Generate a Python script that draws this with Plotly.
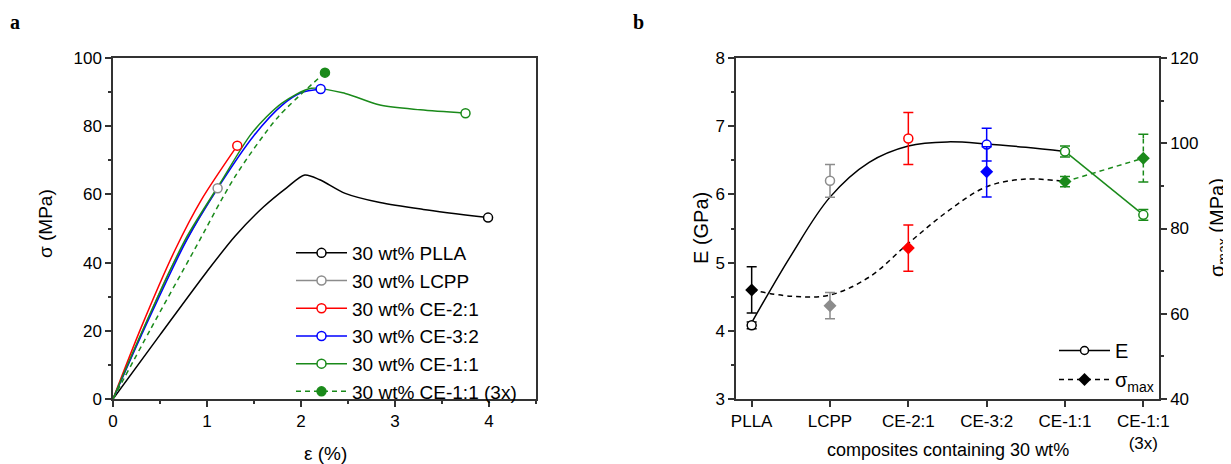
import plotly.graph_objects as go

# ---------------- Panel a: stress-strain curves ----------------
series_names = ["30 wt% PLLA", "30 wt% LCPP", "30 wt% CE-2:1", "30 wt% CE-3:2",
                "30 wt% CE-1:1", "30 wt% CE-1:1 (3x)"]
series_colors = ["#000000", "#8c8c8c", "#ff0000", "#0000ff", "#1a8a1a", "#1a8a1a"]

pla_eps = [0, 0.5, 1.0, 1.3, 1.6, 1.85, 2.04, 2.2, 2.47, 2.84, 3.3, 3.99]
pla_sig = [0, 18.8, 37.4, 47.8, 56.3, 62.0, 65.7, 64.3, 60.3, 57.6, 55.6, 53.2]

lcpp_eps = [0, 0.3, 0.6, 0.9, 1.113]
lcpp_sig = [0, 19.0, 37.4, 52.3, 61.8]

ce21_eps = [0, 0.3, 0.66, 0.94, 1.322]
ce21_sig = [0, 21.0, 43.7, 58.4, 74.3]

ce32_eps = [0, 0.3, 0.784, 1.113, 1.5, 1.8, 2.0, 2.209]
ce32_sig = [0, 18.6, 46.6, 61.8, 77.3, 86.2, 89.8, 90.9]

ce11_eps = [0, 0.3, 0.766, 1.138, 1.475, 1.794, 2.11, 2.47, 2.84, 3.27, 3.75]
ce11_sig = [0, 19.2, 46.6, 63.2, 77.9, 86.7, 91.1, 89.6, 86.2, 84.8, 83.8]

ce11x3_eps = [0, 0.4, 0.865, 1.298, 1.76, 2.255]
ce11x3_sig = [0, 20.5, 43.7, 65.2, 82.8, 95.7]

curves_eps = [pla_eps, lcpp_eps, ce21_eps, ce32_eps, ce11_eps, ce11x3_eps]
curves_sig = [pla_sig, lcpp_sig, ce21_sig, ce32_sig, ce11_sig, ce11x3_sig]
curve_dash = ["solid", "solid", "solid", "solid", "solid", "5px,4px"]
end_filled = [False, False, False, False, False, True]

# ---------------- Panel b: modulus and strength ----------------
categories = ["PLLA", "LCPP", "CE-2:1", "CE-3:2", "CE-1:1", "CE-1:1<br>(3x)"]
cat_colors = ["#000000", "#8c8c8c", "#ff0000", "#0000ff", "#1a8a1a", "#1a8a1a"]
E_vals = [4.08, 6.20, 6.82, 6.73, 6.63, 5.70]
E_err = [0.05, 0.24, 0.38, 0.24, 0.08, 0.08]
smax_vals = [65.6, 61.9, 75.4, 93.3, 91.0, 96.5]
smax_err = [5.4, 3.1, 5.4, 5.9, 1.2, 5.6]

# guide curves
E_fit_x = [0, 0.5, 1, 1.5, 2, 2.5, 3, 3.5, 4]
E_fit_y = [4.12, 5.10, 5.96, 6.47, 6.71, 6.77, 6.74, 6.69, 6.63]
s_fit_x = [0, 0.5, 1, 1.5, 2, 2.5, 3, 3.5, 4]
s_fit_y = [65.6, 64.1, 64.4, 68.6, 76.5, 84.0, 89.8, 91.6, 91.0]

FONT = "Liberation Sans, Arial, sans-serif"
AX = "#333333"

fig = go.Figure()

# ----- panel a traces -----
for i in range(len(series_names)):
    c = series_colors[i]
    fig.add_trace(go.Scatter(
        x=curves_eps[i], y=curves_sig[i], mode="lines",
        line=dict(color=c, width=1.5, dash=curve_dash[i], shape="spline", smoothing=0.8),
        showlegend=False, hoverinfo="skip", xaxis="x", yaxis="y"))
for i in range(len(series_names)):
    c = series_colors[i]
    fig.add_trace(go.Scatter(
        x=[curves_eps[i][-1]], y=[curves_sig[i][-1]], mode="lines+markers",
        name=series_names[i],
        line=dict(color=c, width=1.5, dash=curve_dash[i]),
        marker=dict(symbol="circle", size=9,
                    color=c if end_filled[i] else "white",
                    line=dict(color=c, width=1.5)),
        legend="legend", xaxis="x", yaxis="y"))

# ----- panel b traces -----
xi = list(range(len(categories)))
fig.add_trace(go.Scatter(x=E_fit_x, y=E_fit_y, mode="lines",
                         line=dict(color="black", width=1.5, shape="spline"),
                         showlegend=False, xaxis="x2", yaxis="y2"))
fig.add_trace(go.Scatter(x=s_fit_x, y=s_fit_y, mode="lines",
                         line=dict(color="black", width=1.5, dash="5px,4px", shape="spline"),
                         showlegend=False, xaxis="x2", yaxis="y3"))
fig.add_trace(go.Scatter(x=xi[4:6], y=E_vals[4:6], mode="lines",
                         line=dict(color=cat_colors[4], width=1.5),
                         showlegend=False, xaxis="x2", yaxis="y2"))
fig.add_trace(go.Scatter(x=xi[4:6], y=smax_vals[4:6], mode="lines",
                         line=dict(color=cat_colors[4], width=1.5, dash="5px,4px"),
                         showlegend=False, xaxis="x2", yaxis="y3"))

for i in xi:
    c = cat_colors[i]
    fig.add_trace(go.Scatter(
        x=[i], y=[smax_vals[i]], mode="markers",
        marker=dict(size=1, color=c),
        error_y=dict(type="data", array=[smax_err[i]], color=c, thickness=1.5, width=5),
        showlegend=False, xaxis="x2", yaxis="y3"))
    if i == len(categories) - 1:
        fig.add_trace(go.Scatter(
            x=[i, i], y=[smax_vals[i] - 0.85 * smax_err[i], smax_vals[i] + 0.85 * smax_err[i]],
            mode="lines", line=dict(color="white", width=3, dash="3px,5px"),
            showlegend=False, hoverinfo="skip", xaxis="x2", yaxis="y3"))
    fig.add_trace(go.Scatter(
        x=[i], y=[smax_vals[i]], mode="markers",
        marker=dict(symbol="diamond", size=10, color=c),
        showlegend=False, xaxis="x2", yaxis="y3"))
    fig.add_trace(go.Scatter(
        x=[i], y=[E_vals[i]], mode="markers",
        marker=dict(symbol="circle", size=9, color="white", line=dict(color=c, width=1.5)),
        error_y=dict(type="data", array=[E_err[i]], color=c, thickness=1.5, width=5),
        showlegend=False, xaxis="x2", yaxis="y2"))

fig.add_trace(go.Scatter(x=[None], y=[None], mode="lines+markers", name="E",
                         line=dict(color="black", width=1.5),
                         marker=dict(symbol="circle", size=8, color="white",
                                     line=dict(color="black", width=1.5)),
                         legend="legend2", xaxis="x2", yaxis="y2"))
fig.add_trace(go.Scatter(x=[None], y=[None], mode="lines+markers", name="σ<sub>max</sub>",
                         line=dict(color="black", width=1.5, dash="5px,4px"),
                         marker=dict(symbol="diamond", size=10, color="black"),
                         legend="legend2", xaxis="x2", yaxis="y3"))

# the page places the figure 8 px from the top-left corner
OFF = 8
W, H = 1231 - OFF, 464 - OFF
L, T = 113 - OFF, 58 - OFF
R = W - (1159 - OFF)
B = H - (399 - OFF)
pw = W - L - R
ph = H - T - B


def px(x):
    return (x - OFF - L) / pw


def py(y):
    return 1 - (y - OFF - T) / ph


axis_common = dict(showline=True, linecolor=AX, linewidth=1.5, showgrid=False, zeroline=False,
                   ticks="outside", ticklen=6, tickwidth=1.5, tickcolor=AX,
                   tickfont=dict(family=FONT, size=17, color="black"))

fig.update_layout(
    width=W, height=H, margin=dict(l=L, r=R, t=T, b=B),
    plot_bgcolor="white", paper_bgcolor="white",
    font=dict(family=FONT, color="black"),
    xaxis=dict(domain=[0, px(536)], range=[0, 4.5], anchor="y", dtick=1, mirror=True,
               minor=dict(ticks="outside", dtick=0.5, ticklen=3, tickwidth=1.5, tickcolor=AX),
               **axis_common),
    yaxis=dict(domain=[0, 1], range=[0, 100], anchor="x", dtick=20, mirror=True,
               minor=dict(ticks="outside", dtick=10, ticklen=3, tickwidth=1.5, tickcolor=AX),
               **axis_common),
    xaxis2=dict(domain=[px(736), 1], range=[-0.2, 5.2], anchor="y2", mirror=True,
                tickmode="array", tickvals=xi, ticktext=categories, **axis_common),
    yaxis2=dict(domain=[0, 1], range=[3, 8], anchor="x2", dtick=1,
                minor=dict(ticks="outside", dtick=0.5, ticklen=3, tickwidth=1.5, tickcolor=AX),
                **axis_common),
    yaxis3=dict(range=[40, 120], anchor="x2", overlaying="y2", side="right", dtick=20,
                minor=dict(ticks="outside", dtick=10, ticklen=3, tickwidth=1.5, tickcolor=AX),
                **axis_common),
    legend=dict(x=px(291), y=py(234), xanchor="left", yanchor="top",
                font=dict(family=FONT, size=19, color="black"),
                bgcolor="rgba(0,0,0,0)", tracegroupgap=0, itemwidth=51),
    legend2=dict(x=px(1054), y=py(331), xanchor="left", yanchor="top",
                 font=dict(family=FONT, size=20, color="black"),
                 bgcolor="rgba(0,0,0,0)", tracegroupgap=0, itemwidth=51),
    showlegend=True,
)

ann = [
    dict(text="<b>a</b>", x=px(15), y=py(22), font=dict(family="Liberation Serif", size=20)),
    dict(text="<b>b</b>", x=px(638), y=py(22), font=dict(family="Liberation Serif", size=20)),
    dict(text="σ (MPa)", x=px(45), y=py(224), textangle=-90, font=dict(family=FONT, size=19)),
    dict(text="ε (%)", x=px(325), y=py(453), font=dict(family=FONT, size=19)),
    dict(text="E (GPa)", x=px(701), y=py(228), textangle=-90, font=dict(family=FONT, size=20)),
    dict(text="σ<sub>max</sub> (MPa)", x=px(1218), y=py(228), textangle=-90,
         font=dict(family=FONT, size=20)),
    dict(text="composites containing 30 wt%", x=px(948), y=py(450),
         font=dict(family=FONT, size=18)),
]
for a in ann:
    a.update(xref="paper", yref="paper", showarrow=False, xanchor="center", yanchor="middle")
    a["font"]["color"] = "black"
fig.update_layout(annotations=ann)

fig.write_html("out.html")
